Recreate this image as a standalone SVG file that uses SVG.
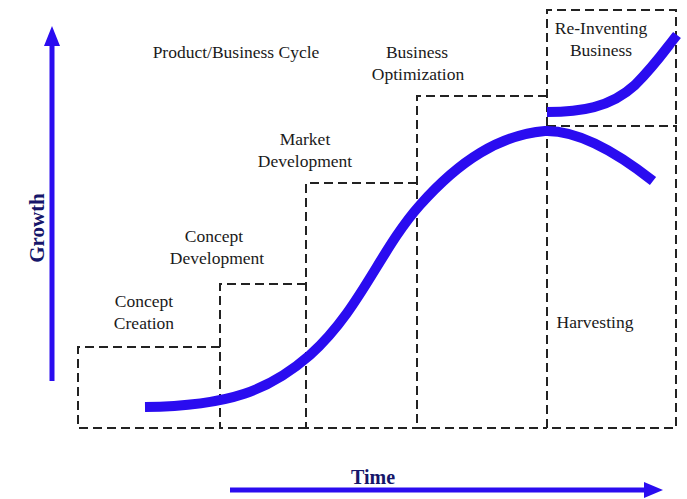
<svg xmlns="http://www.w3.org/2000/svg" width="687" height="499" viewBox="0 0 687 499">
<defs>
<style>
.box{fill:none;stroke:#222;stroke-width:2;stroke-dasharray:9 5}
.lbl{font-family:"Liberation Serif","Times New Roman",serif;font-size:17.5px;fill:#1a1a1a;text-anchor:middle}
.curve{fill:none;stroke:#2a0cf0;stroke-width:10;stroke-linecap:butt}
.axis{stroke:#2a0cf0;stroke-width:5;fill:none}
.axlbl{font-family:"Liberation Serif","Times New Roman",serif;font-weight:bold;fill:#16166a;text-anchor:middle}
</style>
</defs>
<rect width="687" height="499" fill="#fff"/>
<g id="title"><text class="lbl" x="236" y="58">Product/Business Cycle</text></g>
<g id="concept-creation">
<path class="box" d="M220,347 H78 V428 H220"/>
<text class="lbl" x="144" y="307">Concept</text><text class="lbl" x="144" y="329">Creation</text>
</g>
<g id="concept-development">
<path class="box" d="M306,284 H220 V428 H306"/>
<text class="lbl" x="214" y="242">Concept</text><text class="lbl" x="217" y="264">Development</text>
</g>
<g id="market-development">
<path class="box" d="M417,183 H306 V428 H417"/>
<text class="lbl" x="305" y="145">Market</text><text class="lbl" x="305" y="167">Development</text>
</g>
<g id="business-optimization">
<path class="box" d="M547,96 H417 V428 H547"/>
<text class="lbl" x="417" y="58">Business</text><text class="lbl" x="418" y="80">Optimization</text>
</g>
<g id="harvesting">
<rect class="box" x="547" y="126" width="129" height="302"/>
<text class="lbl" x="595" y="328">Harvesting</text>
</g>
<g id="reinventing">
<path class="box" d="M547,126 V10 H676 V126"/>
<text class="lbl" x="601" y="34">Re-Inventing</text><text class="lbl" x="601" y="56">Business</text>
</g>
<g id="connectors">
<path class="curve" d="M145,407 C230,406 270,390 310,355 C360,310 380,250 420,205 C460,160 500,135 545,131 C580,130 620,155 653,181"/>
<path class="curve" d="M547,112 C580,112 610,108 635,85 C655,65 665,50 677,35"/>
<line class="axis" x1="52" y1="381" x2="52" y2="40"/>
<polygon points="52,26 44,46 60,46" fill="#2a0cf0"/>
<line class="axis" x1="230" y1="490" x2="650" y2="490"/>
<polygon points="663,490 644,482 644,498" fill="#2a0cf0"/>
</g>
<g id="axis-labels">
<text class="axlbl" font-size="21" transform="translate(44,228) rotate(-90)">Growth</text>
<text class="axlbl" font-size="20" x="373" y="484">Time</text>
</g>
</svg>
